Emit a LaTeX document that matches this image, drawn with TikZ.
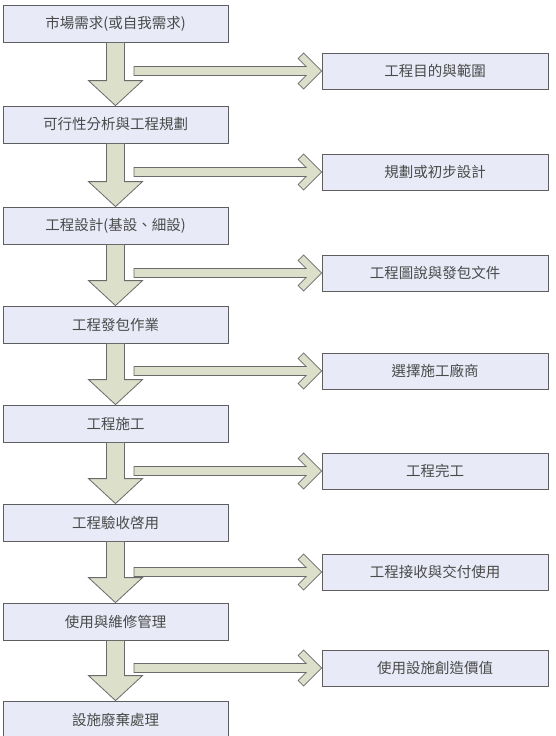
\documentclass[tikz,border=0pt]{standalone}
\usepackage{fontspec}
\setmainfont{Noto Sans CJK TC}
\definecolor{boxfill}{HTML}{E8EBF7}
\definecolor{boxline}{HTML}{5E5E5E}
\definecolor{arrfill}{HTML}{DCDFC9}
\definecolor{arrline}{HTML}{6A6A6A}
\definecolor{txt}{HTML}{4A4A4A}
\tikzset{
  leftbox/.style={draw=boxline, fill=boxfill, line width=0.8pt, minimum width=225pt, minimum height=37pt, inner sep=0pt, font=\fontsize{14.5}{16}\selectfont, text=txt},
  rightbox/.style={draw=boxline, fill=boxfill, line width=0.8pt, minimum width=226pt, minimum height=36pt, inner sep=0pt, font=\fontsize{14.5}{16}\selectfont, text=txt},
  fatarrow/.style={draw=arrline, fill=arrfill, line width=0.8pt, line join=miter}
}
\newcommand\DArr[2]{%
  \draw[fatarrow] ([xshift=-9pt]#1.south) -- ([xshift=-9pt,yshift=25pt]#2.north)
    -- ([xshift=-27pt,yshift=25pt]#2.north) -- (#2.north)
    -- ([xshift=27pt,yshift=25pt]#2.north) -- ([xshift=9pt,yshift=25pt]#2.north)
    -- ([xshift=9pt]#1.south) -- cycle;}
\newcommand\RArr[2]{%
  \coordinate (s) at (#2.west -| #1.south);
  \draw[fatarrow] ([xshift=18.5pt,yshift=4.5pt]s) -- ([xshift=-15.5pt,yshift=4.5pt]#2.west)
    -- ([xshift=-23.5pt,yshift=12.5pt]#2.west) -- ([xshift=-18pt,yshift=18pt]#2.west)
    -- (#2.west) -- ([xshift=-18pt,yshift=-18pt]#2.west)
    -- ([xshift=-23.5pt,yshift=-12.5pt]#2.west) -- ([xshift=-15.5pt,yshift=-4.5pt]#2.west)
    -- ([xshift=18.5pt,yshift=-4.5pt]s) -- cycle;}
\begin{document}
\begin{tikzpicture}[x=1pt,y=-1pt]
\useasboundingbox[fill=white] (0,0) rectangle (555,736);
% left column
\node[leftbox] (L1) at (115.5,23.5) {市場需求(或自我需求)};
\node[leftbox] (L2) at (115.5,124.5) {可行性分析與工程規劃};
\node[leftbox] (L3) at (115.5,225.5) {工程設計(基設、細設)};
\node[leftbox] (L4) at (115.5,324.5) {工程發包作業};
\node[leftbox] (L5) at (115.5,423.5) {工程施工};
\node[leftbox] (L6) at (115.5,522.5) {工程驗收啓用};
\node[leftbox] (L7) at (115.5,621.5) {使用與維修管理};
\node[leftbox] (L8) at (115.5,719.5) {設施廢棄處理};
% right column
\node[rightbox] (R1) at (435,71) {工程目的與範圍};
\node[rightbox] (R2) at (435,172) {規劃或初步設計};
\node[rightbox] (R3) at (435,273) {工程圖說與發包文件};
\node[rightbox] (R4) at (435,371) {選擇施工廠商};
\node[rightbox] (R5) at (435,471) {工程完工};
\node[rightbox] (R6) at (435,572) {工程接收與交付使用};
\node[rightbox] (R7) at (435,668) {使用設施創造價值};
% arrows
\DArr{L1}{L2}\RArr{L1}{R1}
\DArr{L2}{L3}\RArr{L2}{R2}
\DArr{L3}{L4}\RArr{L3}{R3}
\DArr{L4}{L5}\RArr{L4}{R4}
\DArr{L5}{L6}\RArr{L5}{R5}
\DArr{L6}{L7}\RArr{L6}{R6}
\DArr{L7}{L8}\RArr{L7}{R7}
\end{tikzpicture}
\end{document}
